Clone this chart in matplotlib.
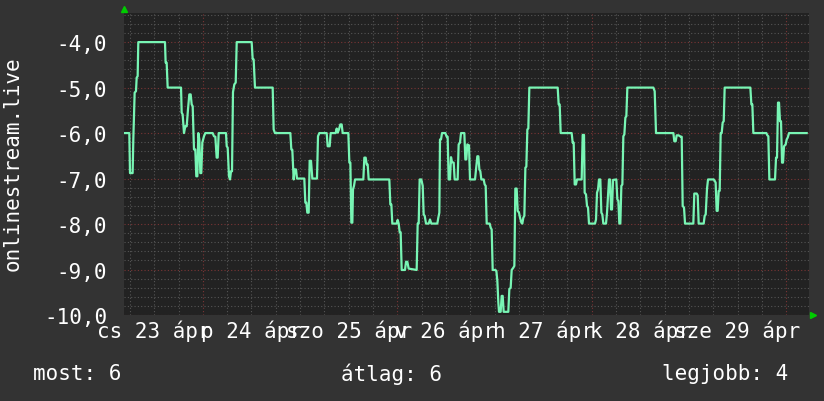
import matplotlib
matplotlib.use('Agg')
import matplotlib.pyplot as plt
from matplotlib.ticker import MultipleLocator, FuncFormatter

plt.rcParams['font.family'] = 'DejaVu Sans Mono'
plt.rcParams['font.size'] = 15

# hours since 23 Apr 00:00, rank value (negative = position)
hours = [
    4.77, 5.83, 6.0, 6.65, 6.82, 7.15, 7.48, 7.65, 7.89, 8.05, 14.64, 14.8, 15.05, 15.3,
    18.6, 18.76, 19.0, 19.33, 19.66, 20.0, 20.32, 20.65, 20.98, 21.23, 21.48, 21.8, 22.13,
    22.37, 22.63, 22.87, 23.12, 23.36, 23.6, 23.86, 24.27, 24.6, 26.41, 26.74, 27.07, 27.4,
    27.65, 27.9, 29.7, 29.88, 30.12, 30.44, 30.7, 30.94, 31.19, 31.43, 31.76, 32.1, 32.35,
    36.04, 36.29, 36.53, 36.86, 41.23, 41.47, 41.8, 45.59, 45.83, 46.08, 46.41, 46.66, 46.99,
    47.23, 49.04, 49.29, 49.54, 49.78, 50.12, 50.36, 50.69, 51.02, 52.17, 52.42, 52.75, 54.56,
    54.81, 55.3, 55.55, 56.78, 57.03, 57.28, 57.6, 57.93, 58.26, 58.51, 59.91, 60.16, 60.41,
    60.65, 60.9, 61.06, 61.31, 61.56, 63.61, 63.86, 64.19, 64.44, 64.68, 64.93, 70.03, 70.28,
    70.53, 70.77, 71.84, 72.09, 72.34, 72.59, 72.83, 73.08, 73.9, 74.15, 74.48, 74.81, 76.78,
    77.03, 77.28, 77.52, 77.93, 78.27, 78.51, 78.76, 79.09, 79.75, 80.07, 80.4, 81.88, 82.13,
    82.38, 82.54, 82.79, 83.04, 83.86, 84.19, 84.43, 84.68, 85.01, 85.26, 85.51, 85.92, 86.16,
    86.9, 87.15, 87.48, 87.73, 88.55, 88.8, 89.04, 89.29, 89.7, 89.95, 91.19, 91.51, 91.76,
    92.01, 92.26, 92.5, 92.75, 93.33, 93.57, 93.82, 94.07, 94.81, 95.06, 95.3, 95.55, 96.21,
    96.46, 96.7, 96.95, 97.11, 97.52, 97.77, 98.02, 98.26, 99.41, 99.66, 99.99, 100.24,
    100.65, 100.9, 101.14, 101.47, 101.72, 102.05, 102.3, 102.63, 102.87, 103.12, 103.37,
    103.62, 103.86, 104.11, 104.35, 104.6, 111.6, 111.84, 112.09, 112.34, 115.05, 115.3,
    115.55, 115.8, 116.12, 116.37, 117.44, 117.52, 117.77, 118.1, 118.26, 118.59, 118.84,
    119.09, 119.33, 120.81, 121.06, 121.31, 121.56, 121.8, 122.13, 122.38, 122.63, 122.87,
    123.53, 123.78, 124.02, 124.27, 124.52, 124.77, 125.01, 125.26, 126.08, 126.33, 126.58,
    126.82, 127.07, 127.32, 127.57, 127.81, 128.06, 128.31, 128.55, 128.8, 135.22, 135.55,
    135.88, 140.16, 140.4, 140.73, 140.98, 141.47, 141.97, 142.22, 142.46, 142.79, 143.04,
    145.09, 145.33, 145.92, 146.17, 146.41, 147.65, 147.89, 148.14, 148.47, 148.72, 150.12,
    150.36, 150.6, 150.85, 151.1, 151.35, 151.6, 151.84, 152.09, 152.34, 152.59, 152.83,
    159.17, 159.42, 159.66, 159.91, 163.12, 163.37, 163.61, 163.86, 165.26, 165.51, 165.75,
    166.0, 166.25, 166.49, 166.74, 166.99, 167.23, 167.48, 167.89, 168.14, 168.39, 168.72,
    173.08,
]
rank = [
    -6.0, -6.0, -6.88, -6.88, -6.14, -5.11, -5.08, -4.78, -4.75, -4.0, -4.0, -4.45, -4.45, -5.0,
    -5.0, -5.55, -5.59, -6.0, -5.85, -5.85, -5.48, -5.15, -5.15, -5.37, -5.41, -6.36, -6.36,
    -6.95, -6.95, -6.0, -6.14, -6.88, -6.88, -6.21, -6.07, -6.0, -6.0, -6.07, -6.08, -6.54,
    -6.54, -6.0, -6.0, -6.29, -6.32, -6.95, -7.02, -6.84, -6.84, -5.1, -4.93, -4.89, -4.0,
    -4.0, -4.37, -4.38, -5.0, -5.0, -5.92, -6.0, -6.0, -6.36, -6.37, -7.02, -6.8, -6.8,
    -7.0, -7.0, -7.53, -7.53, -7.75, -7.75, -6.61, -6.61, -7.0, -7.0, -6.07, -6.0, -6.0,
    -6.29, -6.29, -6.0, -6.0, -5.9, -5.99, -5.92, -5.81, -5.81, -6.0, -6.0, -6.65, -6.65,
    -7.97, -7.97, -7.24, -7.16, -7.02, -7.02, -6.54, -6.54, -6.69, -6.69, -7.02, -7.02, -7.57,
    -7.57, -7.99, -7.99, -7.91, -7.99, -8.18, -8.18, -9.01, -9.01, -8.83, -8.83, -8.98, -9.01,
    -7.99, -7.99, -7.02, -7.02, -7.16, -7.79, -7.82, -7.99, -7.99, -7.9, -7.99, -7.99, -7.86,
    -7.75, -6.14, -6.14, -6.0, -6.0, -6.08, -6.08, -7.02, -7.02, -6.53, -6.64, -6.65, -7.02,
    -7.02, -6.25, -6.21, -6.0, -6.0, -6.58, -6.58, -6.25, -6.27, -7.02, -7.02, -6.72, -6.51,
    -6.51, -6.8, -6.84, -7.02, -7.02, -7.13, -7.16, -7.99, -7.99, -8.08, -8.12, -9.01, -9.01,
    -9.03, -9.25, -9.73, -9.93, -9.93, -9.58, -9.58, -9.93, -9.93, -9.43, -9.4, -9.01,
    -8.96, -8.92, -7.22, -7.22, -7.71, -7.75, -7.86, -7.97, -7.99, -7.86, -7.82,
    -6.76, -6.74, -5.92, -5.9, -5.0, -5.0, -5.37, -5.37, -6.0, -6.0, -6.21,
    -6.21, -7.13, -7.13, -7.02, -7.02, -7.02, -6.04, -6.04, -7.31, -7.35, -7.6,
    -7.64, -7.99, -7.99, -7.9, -7.31, -7.24, -7.02, -7.02, -7.75, -7.79, -7.99,
    -7.99, -7.75, -7.38, -7.02, -7.02, -7.68, -7.68, -7.03, -7.02, -7.46, -7.49,
    -7.99, -7.99, -7.16, -7.13, -6.07, -6.03, -5.66, -5.63, -5.0, -5.0, -5.08,
    -6.0, -6.0, -6.18, -6.18, -6.05, -6.05, -6.08, -6.08, -7.6, -7.64, -7.99,
    -7.99, -7.33, -7.33, -7.37, -7.99, -7.99, -7.82, -7.79, -7.22, -7.02, -7.02,
    -7.05, -7.09, -7.71, -7.71, -7.27, -7.27, -6.0, -6.0, -5.77, -5.74, -5.0,
    -5.0, -5.37, -5.37, -6.0, -6.0, -6.05, -6.07, -7.02, -7.02, -6.54, -6.54,
    -5.33, -5.33, -5.74, -5.74, -6.65, -6.65, -6.29, -6.25, -6.14, -6.1, -6.0,
    -6.0,
]

day_ticks = [12, 36, 60, 84, 108, 132, 156]
day_labels = ['cs 23 ápr', 'p 24 ápr', 'szo 25 ápr', 'v 26 ápr',
              'h 27 ápr', 'k 28 ápr', 'sze 29 ápr']
y_ticks = [-10, -9, -8, -7, -6, -5, -4]
summary = [('most', 6), ('átlag', 6), ('legjobb', 4)]
summary_x = [33, 341, 662]

W, H = 824, 402
fig = plt.figure(figsize=(W / 100, H / 100), dpi=100, facecolor='#333333')
ax = fig.add_axes([124 / W, 86 / H, 685 / W, 302 / H], facecolor='#222222')

ax.set_xlim(4.52, 173.65)
ax.set_ylim(-10, -3.36)

# grid: gray every 6 h / 0.2, dark red every 48 h / 1.0
dots = (0, (1, 2))
for h in range(6, 174, 6):
    major = h % 48 == 24
    ax.axvline(h, color='#7a3535' if major else '#555555', lw=0.8, ls=dots, zorder=1)
ax.yaxis.set_minor_locator(MultipleLocator(0.2))
ax.grid(axis='y', which='minor', color='#555555', lw=0.8, ls=dots, zorder=1)
ax.grid(axis='y', which='major', color='#7a3535', lw=0.8, ls=dots, zorder=1)

ax.plot(hours, rank, color='#78f5b4', lw=1.6, zorder=3)

ax.set_yticks(y_ticks)
ax.yaxis.set_major_formatter(FuncFormatter(lambda v, p: f'{v:.1f}'.replace('.', ',')))
ax.set_xticks(day_ticks)
ax.set_xticklabels(day_labels)
ax.tick_params(colors='white', length=0, which='both')
ax.tick_params(axis='y', pad=12)
ax.tick_params(axis='x', pad=3)

for s in ['top', 'right', 'left', 'bottom']:
    ax.spines[s].set_visible(False)

# rrdtool style axis arrows
ax.plot([0], [1.013], marker='^', color='#00cc00', ms=5, transform=ax.transAxes, clip_on=False)
ax.plot([1.006], [0], marker='>', color='#00cc00', ms=5, transform=ax.transAxes, clip_on=False)

fig.text(13 / W, 1 - 164 / H, 'onlinestream.live', rotation=90,
         ha='center', va='center', color='white')
for (name, val), x in zip(summary, summary_x):
    fig.text(x / W, 1 - 374 / H, f'{name}: {val}', ha='left', va='center', color='white')

fig.savefig('out.png', dpi=100, facecolor=fig.get_facecolor())
